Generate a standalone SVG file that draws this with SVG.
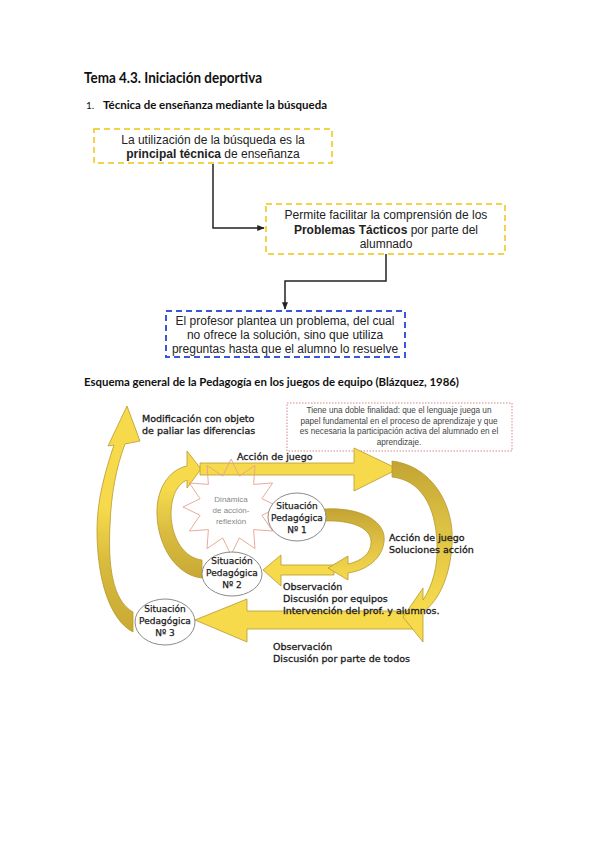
<svg xmlns="http://www.w3.org/2000/svg" width="599" height="848" viewBox="0 0 599 848">
<style>
.h{font-family:Lato,"Liberation Sans",sans-serif;font-weight:bold;fill:#111}
.bx{font-family:"Liberation Sans",Arial,sans-serif;font-size:12px;fill:#222;text-anchor:middle}
.b{font-weight:bold}
.ybox{fill:#fff;stroke:#f2d44c;stroke-width:2;stroke-dasharray:6,4}
.bbox{fill:#fff;stroke:#3b57d8;stroke-width:2;stroke-dasharray:6,4}
.con{fill:none;stroke:#222;stroke-width:1.5}
.cm{font-family:"DejaVu Sans",sans-serif;font-size:9.5px;fill:#1a1a1a;stroke:#1a1a1a;stroke-width:0.3}
.el{fill:#fff;stroke:#8a8a8a;stroke-width:1}
.elt{font-family:"DejaVu Sans",sans-serif;font-size:9px;fill:#1a1a1a;stroke:#1a1a1a;stroke-width:0.25;text-anchor:middle}
.ar{stroke:#b8992c;stroke-width:0.8}
.note{fill:#fff;stroke:#d9868a;stroke-width:1;stroke-dasharray:1.5,1.5}
.nt{font-family:"Liberation Sans",Arial,sans-serif;font-size:8.2px;fill:#444;text-anchor:middle}
.star{fill:none;stroke:#e5a28f;stroke-width:0.9}
.st{font-family:"Liberation Sans",Arial,sans-serif;font-size:8px;fill:#888;text-anchor:middle}
</style>
<defs>
<marker id="ah" viewBox="0 0 10 10" refX="9" refY="5" markerWidth="5" markerHeight="5" orient="auto"><path d="M0,1 L10,5 L0,9 Z" fill="#222"/></marker>
<linearGradient id="gL" x1="0" y1="1" x2="0" y2="0"><stop offset="0" stop-color="#c9a935"/><stop offset="0.3" stop-color="#d8ba3c"/><stop offset="0.55" stop-color="#f6da4c"/></linearGradient>
<linearGradient id="gI" x1="0" y1="1" x2="0" y2="0"><stop offset="0" stop-color="#c9a935"/><stop offset="0.35" stop-color="#d8bb40"/><stop offset="0.7" stop-color="#f6da4c"/></linearGradient>
<linearGradient id="gR" x1="0" y1="0" x2="0" y2="1"><stop offset="0" stop-color="#c3a433"/><stop offset="0.35" stop-color="#dcc044"/><stop offset="0.8" stop-color="#f6da4c"/></linearGradient>
<linearGradient id="gM" x1="0" y1="0" x2="0" y2="1"><stop offset="0" stop-color="#c3a433"/><stop offset="0.5" stop-color="#e0c246"/><stop offset="1" stop-color="#f6da4c"/></linearGradient>
</defs>
<rect width="599" height="848" fill="#fff"/>

<g id="headings">
<text class="h" x="84" y="83" font-size="14.5" textLength="178" lengthAdjust="spacingAndGlyphs">Tema 4.3. Iniciación deportiva</text>
<text x="86" y="109" font-family="Lato,sans-serif" font-size="10" fill="#111">1.</text>
<text class="h" x="103" y="109" font-size="11" textLength="224" lengthAdjust="spacingAndGlyphs">Técnica de enseñanza mediante la búsqueda</text>
<text class="h" x="84" y="386" font-size="11" textLength="375" lengthAdjust="spacingAndGlyphs">Esquema general de la Pedagogía en los juegos de equipo (Blázquez, 1986)</text>
</g>

<g id="connectors-top">
<path class="con" d="M213,163 V228 H264" marker-end="url(#ah)"/>
<path class="con" d="M386,254 V281 H285 V309" marker-end="url(#ah)"/>
</g>

<g id="box1">
<rect class="ybox" x="94" y="129" width="238" height="34"/>
<text class="bx" x="213" y="144">La utilización de la búsqueda es la</text>
<text class="bx" x="213" y="158"><tspan class="b">principal técnica</tspan> de enseñanza</text>
</g>
<g id="box2">
<rect class="ybox" x="266" y="204" width="239" height="50"/>
<text class="bx" x="386" y="219">Permite facilitar la comprensión de los</text>
<text class="bx" x="386" y="234"><tspan class="b">Problemas Tácticos</tspan> por parte del</text>
<text class="bx" x="386" y="248">alumnado</text>
</g>
<g id="box3">
<rect class="bbox" x="166" y="311" width="239" height="46"/>
<text class="bx" x="285" y="325">El profesor plantea un problema, del cual</text>
<text class="bx" x="285" y="339">no ofrece la solución, sino que utiliza</text>
<text class="bx" x="285" y="353">preguntas hasta que el alumno lo resuelve</text>
</g>

<g id="note">
<rect class="note" x="287" y="403" width="225" height="48"/>
<text class="nt" x="399" y="413">Tiene una doble finalidad: que el lenguaje juega un</text>
<text class="nt" x="399" y="423.5">papel fundamental en el proceso de aprendizaje y que</text>
<text class="nt" x="399" y="434">es necesaria la participación activa del alumnado en el</text>
<text class="nt" x="399" y="444.5">aprendizaje.</text>
</g>

<g id="arrows">
<path class="ar" fill="url(#gL)" d="M133,612 C112,600 108,565 110,525 C111,495 116,468 125,444 L140,441 L127,406 L108,446 L114,445 C105,472 97,500 97,530 C97,580 110,620 133,632 Z"/>
<path class="ar" fill="url(#gI)" d="M202,560 C185,558 172,540 171,515 C171,495 178,484 187,480 L187,488 L201,469 L187,451 L187,466 C168,470 156,490 157,515 C158,545 175,575 202,578 Z"/>
<path class="ar" fill="#f6da4c" d="M200,463 L354,463 L354,448 L398,469 L354,491 L354,475 L200,475 Z"/>
<path class="ar" fill="#f6da4c" d="M420,611 L247,611 L247,599 L195,620 L247,642 L247,629 L420,629 Z"/>
<path class="ar" fill="url(#gR)" d="M392,461 C432,466 455,505 452,545 C450,575 440,600 423,612 L423,642 L403,617 L423,588 L423,600 C433,585 438,565 437,545 C436,505 420,480 392,477 Z"/>
<path class="ar" fill="#f6da4c" d="M334,565 L281,565 L281,555 L263,570 L281,586 L281,575 L334,575 Z"/>
<path class="ar" fill="url(#gM)" d="M325,509 C362,507 387,522 384,542 C382,558 368,570 348,573 L348,580 L328,568 L348,556 L348,564 C362,561 371,553 371,543 C372,528 352,520 325,521 Z"/>
</g>

<g id="star">
<polygon class="star" points="231,459 239.3,476.1 255,465.4 253.6,484.4 272.6,483 261.9,498.7 279,507 261.9,515.3 272.6,531 253.6,529.6 255,548.6 239.3,537.9 231,555 222.7,537.9 207,548.6 208.4,529.6 189.4,531 200.1,515.3 183,507 200.1,498.7 189.4,483 208.4,484.4 207,465.4 222.7,476.1"/>
<text class="st" x="231" y="502">Dinámica</text>
<text class="st" x="231" y="513">de acción-</text>
<text class="st" x="231" y="524">reflexión</text>
</g>

<g id="sit1">
<ellipse class="el" cx="297" cy="517" rx="29" ry="24"/>
<text class="elt" x="297" y="509">Situación</text>
<text class="elt" x="297" y="521">Pedagógica</text>
<text class="elt" x="297" y="533">Nº 1</text>
</g>
<g id="sit2">
<ellipse class="el" cx="232" cy="574" rx="30" ry="22"/>
<text class="elt" x="232" y="564">Situación</text>
<text class="elt" x="232" y="576">Pedagógica</text>
<text class="elt" x="232" y="588">Nº 2</text>
</g>
<g id="sit3">
<ellipse class="el" cx="165" cy="622" rx="30" ry="23"/>
<text class="elt" x="165" y="612">Situación</text>
<text class="elt" x="165" y="624">Pedagógica</text>
<text class="elt" x="165" y="636">Nº 3</text>
</g>

<g id="labels">
<text class="cm" x="142" y="422">Modificación con objeto</text>
<text class="cm" x="142" y="434">de paliar las diferencias</text>
<text class="cm" x="237" y="460">Acción de juego</text>
<text class="cm" x="389" y="541">Acción de juego</text>
<text class="cm" x="389" y="553">Soluciones acción</text>
<text class="cm" x="283" y="590">Observación</text>
<text class="cm" x="283" y="602">Discusión por equipos</text>
<text class="cm" x="283" y="614">Intervención del prof. y alumnos.</text>
<text class="cm" x="273" y="650">Observación</text>
<text class="cm" x="273" y="662">Discusión por parte de todos</text>
</g>
</svg>
